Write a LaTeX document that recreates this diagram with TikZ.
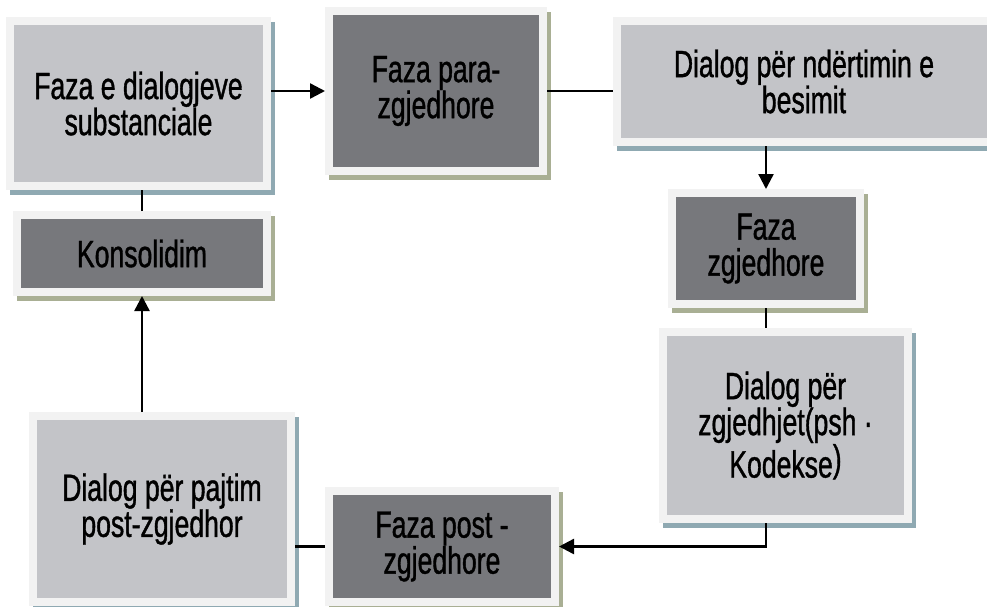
\documentclass[tikz,border=0pt]{standalone}
\usepackage{fontspec}
\setmainfont[FakeStretch=0.70,FakeBold=1]{Liberation Sans}
\usetikzlibrary{arrows.meta,backgrounds,calc}
\definecolor{lightfill}{RGB}{195,196,200}
\definecolor{darkfill}{RGB}{119,120,124}
\definecolor{framecol}{RGB}{242,242,242}
\definecolor{blueshadow}{RGB}{143,169,178}
\definecolor{oliveshadow}{RGB}{169,175,148}
\tikzset{
  phasebox/.style={rectangle, draw=framecol, line width=8pt, inner sep=0pt, outer sep=4pt,
    align=center, text=black, font=\fontsize{38}{36}\selectfont},
  lightbox/.style={phasebox, fill=lightfill},
  darkbox/.style={phasebox, fill=darkfill},
  conn/.style={line width=2.4pt, black},
  arr/.style={conn, -{Triangle[length=15pt,width=15pt]}},
}
\newcommand{\boxshadow}[2]{%
  \fill[#2] ($(#1.north west)+(4,5)$) rectangle ($(#1.south east)+(4,5)$);}
\begin{document}
\begin{tikzpicture}[x=1pt,y=-1pt]
\useasboundingbox (0,0) rectangle (987,606);
\node[lightbox, minimum width=257, minimum height=165] (sub) at (138.5,103.5) {Faza e dialogjeve\\substanciale};
\node[darkbox, minimum width=250, minimum height=77] (kon) at (142,253.5) {Konsolidim};
\node[darkbox, minimum width=214, minimum height=160] (para) at (436,91) {Faza para-\\zgjedhore};
\node[lightbox, minimum width=374, minimum height=121] (bes) at (804,81.5) {Dialog për ndërtimin e\\besimit};
\node[darkbox, minimum width=188, minimum height=111] (zgj) at (766,248.5) {Faza\\zgjedhore};
\node[lightbox, minimum width=245, minimum height=187] (kod) at (785.5,425.5) {Dialog për\\zgjedhjet(psh ·\\Kodekse\raisebox{6pt}{)}};
\node[darkbox, minimum width=226, minimum height=111] (post) at (442,546.5) {Faza post -\\zgjedhore};
\node[lightbox, minimum width=258, minimum height=186] (paj) at (162,509) {Dialog për pajtim\\post-zgjedhor};
\begin{scope}[on background layer]
  \boxshadow{sub}{blueshadow}
  \boxshadow{kon}{oliveshadow}
  \boxshadow{para}{oliveshadow}
  \boxshadow{bes}{blueshadow}
  \boxshadow{zgj}{oliveshadow}
  \boxshadow{kod}{blueshadow}
  \boxshadow{post}{oliveshadow}
  \boxshadow{paj}{blueshadow}
\end{scope}
\draw[arr] (sub.east |- para.west) -- (para.west);
\draw[conn] (para.east) -- (para.east -| bes.west);
\draw[arr] (zgj.north |- bes.south) -- (zgj.north);
\draw[conn] (zgj.south) -- (zgj.south |- kod.north);
\draw[arr] (zgj.south |- kod.south) |- (post.east);
\draw[conn] (post.west) -- (post.west -| paj.east);
\draw[arr] (paj.north -| kon.south) -- (kon.south);
\draw[conn] (kon.north) -- (kon.north |- sub.south);
\end{tikzpicture}
\end{document}
